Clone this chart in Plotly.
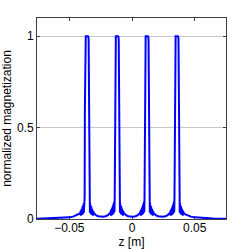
import plotly.graph_objects as go

# Peak centres (z in m)
peak_centres = [-0.0360, -0.0120, 0.0118, 0.0357]

# Profile of one band around its centre: offsets (m) and magnitudes
profile_dz = [-0.0052, -0.0050, -0.0048, -0.0046, -0.0044, -0.0042, -0.0040, -0.0038,
              -0.0036, -0.0034, -0.0032, -0.0030, -0.0028, -0.0026, -0.0024, -0.0022,
              -0.0020, -0.0018, -0.0016, -0.0014, -0.0012, -0.0009,
              0.0009, 0.0012, 0.0014, 0.0016, 0.0018, 0.0020,
              0.0022, 0.0024, 0.0026, 0.0028, 0.0030, 0.0032, 0.0034, 0.0036,
              0.0038, 0.0040, 0.0042, 0.0044, 0.0046, 0.0048, 0.0050, 0.0052]
profile_m = [0.034, 0.044, 0.018, 0.050, 0.020, 0.056, 0.022, 0.062,
             0.024, 0.070, 0.027, 0.078, 0.030, 0.086, 0.034, 0.095,
             0.040, 0.120, 0.600, 0.980, 0.998, 1.000,
             1.000, 0.998, 0.980, 0.600, 0.120, 0.040,
             0.095, 0.034, 0.086, 0.030, 0.078, 0.027, 0.070, 0.024,
             0.062, 0.022, 0.056, 0.020, 0.050, 0.018, 0.044, 0.034]

# Baseline between / outside the bands
left_tail_z = [-0.0758, -0.0700, -0.0650, -0.0600, -0.0550, -0.0500, -0.0470, -0.0450, -0.0430, -0.0415]
left_tail_m = [0.001, 0.002, 0.003, 0.004, 0.006, 0.009, 0.013, 0.018, 0.024, 0.030]
gap_dz = [0.0060, 0.0072, 0.0090, 0.0110, 0.0119]   # offsets from a band centre into the gap
gap_m = [0.030, 0.021, 0.015, 0.012, 0.011]
right_tail_z = [0.0415, 0.0430, 0.0450, 0.0470, 0.0500, 0.0550, 0.0600, 0.0650, 0.0700, 0.0750]
right_tail_m = [0.030, 0.024, 0.018, 0.013, 0.009, 0.006, 0.004, 0.003, 0.002, 0.001]

x_ticks = [-0.05, 0, 0.05]
x_tick_text = ["\u22120.05", "0", "0.05"]
y_ticks = [0, 0.5, 1]
y_tick_text = ["0", "0.5", "1"]

# assemble the curve
z = list(left_tail_z)
m = list(left_tail_m)
for i, c in enumerate(peak_centres):
    z += [c + d for d in profile_dz]
    m += list(profile_m)
    if i < len(peak_centres) - 1:
        nxt = peak_centres[i + 1]
        z += [c + d for d in gap_dz[:-1]]
        m += gap_m[:-1]
        z += [(c + nxt) / 2]
        m += [gap_m[-1]]
        z += [nxt - d for d in reversed(gap_dz[:-1])]
        m += list(reversed(gap_m[:-1]))
z += right_tail_z
m += right_tail_m

fig = go.Figure()
fig.add_trace(go.Scatter(x=z, y=m, mode="lines",
                         line=dict(color="#0000ff", width=2),
                         hoverinfo="skip", showlegend=False))

font = dict(family="Liberation Sans, Arial, sans-serif", size=12, color="#000000")

fig.update_layout(
    width=249, height=249,
    margin=dict(l=37, r=23, t=18, b=30, autoexpand=False),
    paper_bgcolor="#ffffff", plot_bgcolor="#ffffff",
    font=font,
    xaxis=dict(range=[-0.0758, 0.075], tickvals=x_ticks, ticktext=x_tick_text,
               showgrid=False, zeroline=False, showline=True, linecolor="#404040",
               linewidth=1, mirror="allticks", ticks="inside", ticklen=3,
               tickcolor="#404040", layer="below traces", automargin=False,
               ticklabelstandoff=-2,
               title=dict(text="z [m]", font=dict(size=12), standoff=0),
               tickfont=dict(size=12)),
    yaxis=dict(range=[0, 1.1], tickvals=y_ticks, ticktext=y_tick_text,
               showgrid=True, gridcolor="#c8c8c8", gridwidth=1, zeroline=False,
               showline=True, linecolor="#404040", linewidth=1,
               mirror="allticks", ticks="inside", ticklen=3, tickcolor="#404040",
               layer="below traces", automargin=False,
               title=dict(text="normalized magnetization", font=dict(size=12), standoff=2),
               tickfont=dict(size=12)),
)

fig.write_html("out.html", config={"displayModeBar": False},
               post_script="document.body.style.margin='0';document.body.style.padding='0';")
